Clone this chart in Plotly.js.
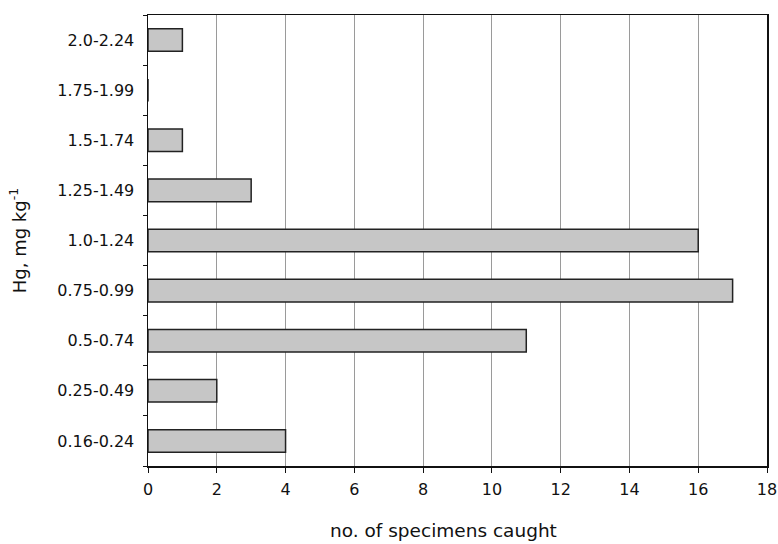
<!DOCTYPE html>
<html>
<head>
<meta charset="utf-8">
<script src="https://cdn.plot.ly/plotly-3.0.1.min.js"></script>
<style>
  html, body { margin: 0; padding: 0; background: #fff; }
  #chart { width: 778px; height: 544px; }
</style>
</head>
<body>
<div id="chart"></div>
<script>
// Mercury concentration classes (mg/kg), bottom to top
const hgClasses = ["0.16-0.24", "0.25-0.49", "0.5-0.74", "0.75-0.99", "1.0-1.24",
                   "1.25-1.49", "1.5-1.74", "1.75-1.99", "2.0-2.24"];
// Number of specimens in each class
const specimenCounts = [4, 2, 11, 17, 16, 3, 1, 0, 1];
const xTickValues = [0, 2, 4, 6, 8, 10, 12, 14, 16, 18];

const trace = {
  type: "bar",
  orientation: "h",
  y: hgClasses,
  x: specimenCounts,
  width: 0.45,
  marker: {
    color: "#c6c6c6",
    line: { color: "#222", width: 1.5 }
  },
  hoverinfo: "x+y"
};

const tickFont = { family: "DejaVu Sans, sans-serif", size: 16, color: "#111" };
const titleFont = { family: "DejaVu Sans, sans-serif", size: 18.5, color: "#111" };

const layout = {
  width: 778,
  height: 544,
  margin: { l: 148, r: 11, t: 15, b: 78 },
  paper_bgcolor: "#fff",
  plot_bgcolor: "#fff",
  font: tickFont,
  showlegend: false,
  xaxis: {
    range: [0, 18],
    tickvals: xTickValues,
    ticktext: xTickValues.map(String),
    showgrid: true,
    gridcolor: "#9a9a9a",
    gridwidth: 1,
    zeroline: false,
    showline: true,
    linecolor: "#111",
    linewidth: 1.5,
    mirror: true,
    ticks: "outside",
    ticklen: 5,
    tickcolor: "#111",
    tickfont: tickFont,
    ticklabelstandoff: 3
  },
  yaxis: {
    type: "category",
    categoryorder: "array",
    categoryarray: hgClasses,
    showgrid: false,
    zeroline: false,
    showline: true,
    linecolor: "#111",
    linewidth: 1.5,
    mirror: true,
    ticks: "outside",
    tickson: "boundaries",
    ticklen: 4,
    tickcolor: "#111",
    tickfont: tickFont,
    ticklabelstandoff: 9,
    title: { text: "Hg, mg kg<sup>-1</sup>", font: { family: "DejaVu Sans, sans-serif", size: 18, color: "#111" }, standoff: 26 }
  },
  annotations: [{
    text: "no. of specimens caught",
    xref: "paper", yref: "paper",
    x: 0.4766, y: -0.142,
    xanchor: "center", yanchor: "middle",
    showarrow: false,
    font: titleFont
  }]
};

Plotly.newPlot("chart", [trace], layout, { displayModeBar: false, staticPlot: true });
</script>
</body>
</html>
